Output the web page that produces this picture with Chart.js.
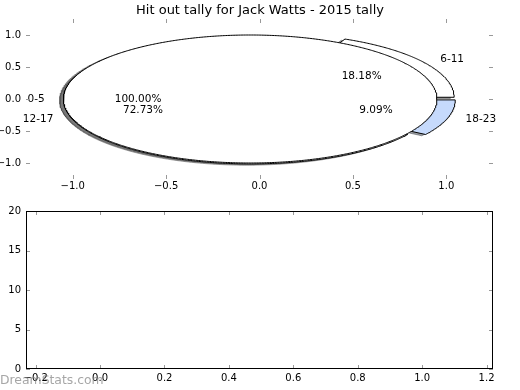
<!DOCTYPE html>
<html>
<head>
<meta charset="utf-8">
<script src="https://cdn.jsdelivr.net/npm/chart.js@4.4.0/dist/chart.umd.min.js"></script>
<style>
  html, body { margin: 0; padding: 0; background: #fff; }
  #wrap { position: relative; width: 520px; height: 390px; }
  #pie-chart { position: absolute; left: 0; top: 0; }
  #empty-chart { position: absolute; left: 0; top: 200px; }
</style>
</head>
<body>
<div id="wrap">
  <canvas id="pie-chart" width="520" height="200"></canvas>
  <canvas id="empty-chart" width="520" height="190"></canvas>
</div>
<script>
const chartTitle = 'Hit out tally for Jack Watts - 2015 tally';
const watermark = 'DreamStats.com';

// first pie (drawn on top)
const firstLabels = ['0-5'];
const firstValues = [1];
// second pie (drawn underneath)
const secondLabels = ['6-11', '12-17', '18-23'];
const secondValues = [2, 8, 1];

const pieTicks = [-1.0, -0.5, 0.0, 0.5, 1.0];
const emptyXTicks = [-0.2, 0.0, 0.2, 0.4, 0.6, 0.8, 1.0, 1.2];
const emptyYTicks = [0, 5, 10, 15, 20];

const firstColors = ['#ffffff'];
const secondColors = ['#ffffff', '#ffffff', '#c6dafc'];
const EXPLODE = 0.05;
const SHADOW = -0.02;

Chart.defaults.font.family = '"DejaVu Sans", sans-serif';
Chart.defaults.font.size = 10;
Chart.defaults.color = '#000';

function makeWedges(values, labels, colors) {
    const total = values.reduce((a, b) => a + b, 0);
    let start = 0;
    return values.map((v, i) => {
        const sweep = 360 * v / total;
        const mid = (start + sweep / 2) * Math.PI / 180;
        const w = {
            label: labels[i],
            pct: 100 * v / total,
            a1: start,
            a2: start + sweep,
            mid: mid,
            cx: EXPLODE * Math.cos(mid),
            cy: EXPLODE * Math.sin(mid),
            color: colors[i]
        };
        start += sweep;
        return w;
    });
}

function outline(w, dx, dy) {
    const pts = [];
    const full = w.a2 - w.a1 > 359.999;
    const ox = w.cx + dx, oy = w.cy + dy;
    if (!full) pts.push({ x: ox, y: oy });
    const n = Math.max(4, Math.ceil((w.a2 - w.a1) * 2));
    for (let k = 0; k <= n; k++) {
        const a = (w.a1 + (w.a2 - w.a1) * k / n) * Math.PI / 180;
        pts.push({ x: ox + Math.cos(a), y: oy + Math.sin(a) });
    }
    if (!full) pts.push({ x: ox, y: oy });
    return pts;
}

function shadowColor(hex) {
    const n = parseInt(hex.slice(1), 16);
    const r = Math.round(0.3 * (n >> 16 & 255));
    const g = Math.round(0.3 * (n >> 8 & 255));
    const b = Math.round(0.3 * (n & 255));
    return `rgba(${r}, ${g}, ${b}, 0.5)`;
}

const secondWedges = makeWedges(secondValues, secondLabels, secondColors);
const firstWedges = makeWedges(firstValues, firstLabels, firstColors);
const allWedges = [...secondWedges, ...firstWedges];

// higher order gets drawn first
let order = 100;
const pieSets = [];
allWedges.forEach(w => {
    pieSets.push({
        data: outline(w, SHADOW, SHADOW),
        order: order--,
        borderColor: shadowColor(w.color),
        backgroundColor: shadowColor(w.color),
        borderWidth: 1,
        fill: 'shape'
    });
});
allWedges.forEach(w => {
    pieSets.push({
        data: outline(w, 0, 0),
        order: order--,
        borderColor: '#000',
        backgroundColor: w.color,
        borderWidth: 1,
        fill: 'shape'
    });
});

const tickFmt = v => (Math.abs(v) < 1e-9 ? 0 : v).toFixed(1).replace('-', '\u2212');

// empty axis on the right, only there to reserve space
const rightSpacer = {
    position: 'right',
    display: true,
    grid: { display: false, drawTicks: false },
    border: { display: false },
    ticks: { display: false },
    afterFit: s => { s.width = 27; }
};

function tickMarks(frame) {
    return {
        id: 'tickMarks',
        afterDraw(chart) {
            const { ctx, chartArea: a, scales } = chart;
            ctx.save();
            ctx.strokeStyle = '#999';
            ctx.lineWidth = 1;
            ctx.beginPath();
            scales.x.ticks.forEach(t => {
                const px = Math.round(scales.x.getPixelForValue(t.value)) + 0.5;
                ctx.moveTo(px, a.bottom); ctx.lineTo(px, a.bottom - 4);
                ctx.moveTo(px, a.top); ctx.lineTo(px, a.top + 4);
            });
            scales.y.ticks.forEach(t => {
                const py = Math.round(scales.y.getPixelForValue(t.value)) + 0.5;
                ctx.moveTo(a.left, py); ctx.lineTo(a.left + 4, py);
                ctx.moveTo(a.right, py); ctx.lineTo(a.right - 4, py);
            });
            ctx.stroke();
            if (frame) {
                ctx.strokeStyle = '#000';
                ctx.strokeRect(a.left + 0.5, a.top + 0.5, a.right - a.left - 1, a.bottom - a.top - 1);
            }
            ctx.restore();
        }
    };
}

const pieText = {
    id: 'pieText',
    afterDatasetsDraw(chart) {
        const { ctx, scales } = chart;
        ctx.save();
        ctx.font = '10.5px "DejaVu Sans"';
        ctx.fillStyle = '#000';
        ctx.textBaseline = 'middle';
        allWedges.forEach(w => {
            const lx = w.cx + 1.1 * Math.cos(w.mid);
            const ly = w.cy + 1.1 * Math.sin(w.mid);
            ctx.textAlign = lx > 0 ? 'left' : 'right';
            ctx.fillText(w.label, scales.x.getPixelForValue(lx), scales.y.getPixelForValue(ly));
            ctx.textAlign = 'center';
            ctx.fillText(w.pct.toFixed(2) + '%',
                scales.x.getPixelForValue(w.cx + 0.6 * Math.cos(w.mid)),
                scales.y.getPixelForValue(w.cy + 0.6 * Math.sin(w.mid)));
        });
        ctx.restore();
    }
};

new Chart(document.getElementById('pie-chart'), {
    type: 'line',
    data: { datasets: pieSets },
    options: {
        responsive: false,
        animation: false,
        layout: { padding: 0 },
        elements: { point: { radius: 0 }, line: { tension: 0 } },
        plugins: {
            legend: { display: false },
            tooltip: { enabled: false },
            title: {
                display: true,
                text: chartTitle,
                color: '#000',
                font: { size: 13, weight: 'normal' },
                padding: { top: 3, bottom: 0.4 }
            }
        },
        scales: {
            x: {
                type: 'linear',
                min: -1.25,
                max: 1.25,
                grid: { display: false, drawTicks: false },
                border: { display: false },
                afterBuildTicks: s => { s.ticks = pieTicks.map(v => ({ value: v })); },
                afterFit: s => { s.height = 21; },
                ticks: { padding: 1, maxRotation: 0, callback: tickFmt }
            },
            y: {
                type: 'linear',
                min: -1.25,
                max: 1.25,
                grid: { display: false, drawTicks: false },
                border: { display: false },
                afterBuildTicks: s => { s.ticks = pieTicks.map(v => ({ value: v })); },
                afterFit: s => { s.width = 26; },
                ticks: { padding: 5, callback: tickFmt }
            },
            spacer: rightSpacer
        }
    },
    plugins: [pieText, tickMarks(false)]
});

const watermarkPlugin = {
    id: 'watermark',
    afterDraw(chart) {
        const ctx = chart.ctx;
        ctx.save();
        ctx.font = '12.4px "DejaVu Sans"';
        ctx.fillStyle = 'rgba(128, 128, 128, 0.7)';
        ctx.textAlign = 'left';
        ctx.textBaseline = 'middle';
        ctx.fillText(watermark, 0, 181);
        ctx.restore();
    }
};

new Chart(document.getElementById('empty-chart'), {
    type: 'line',
    data: { datasets: [{ data: [] }] },
    options: {
        responsive: false,
        animation: false,
        layout: { padding: { left: 0, right: 0, top: 10, bottom: 0 } },
        plugins: { legend: { display: false }, tooltip: { enabled: false } },
        scales: {
            x: {
                type: 'linear',
                min: -0.23,
                max: 1.22,
                grid: { display: false, drawTicks: false },
                border: { display: false },
                afterBuildTicks: s => { s.ticks = emptyXTicks.map(v => ({ value: v })); },
                afterFit: s => { s.height = 21; },
                ticks: { padding: 3, maxRotation: 0, callback: tickFmt }
            },
            y: {
                type: 'linear',
                min: 0,
                max: 20,
                grid: { display: false, drawTicks: false },
                border: { display: false },
                afterBuildTicks: s => { s.ticks = emptyYTicks.map(v => ({ value: v })); },
                afterFit: s => { s.width = 26; },
                ticks: { padding: 5, callback: v => String(v) }
            },
            spacer: rightSpacer
        }
    },
    plugins: [tickMarks(true), watermarkPlugin]
});
</script>
</body>
</html>
